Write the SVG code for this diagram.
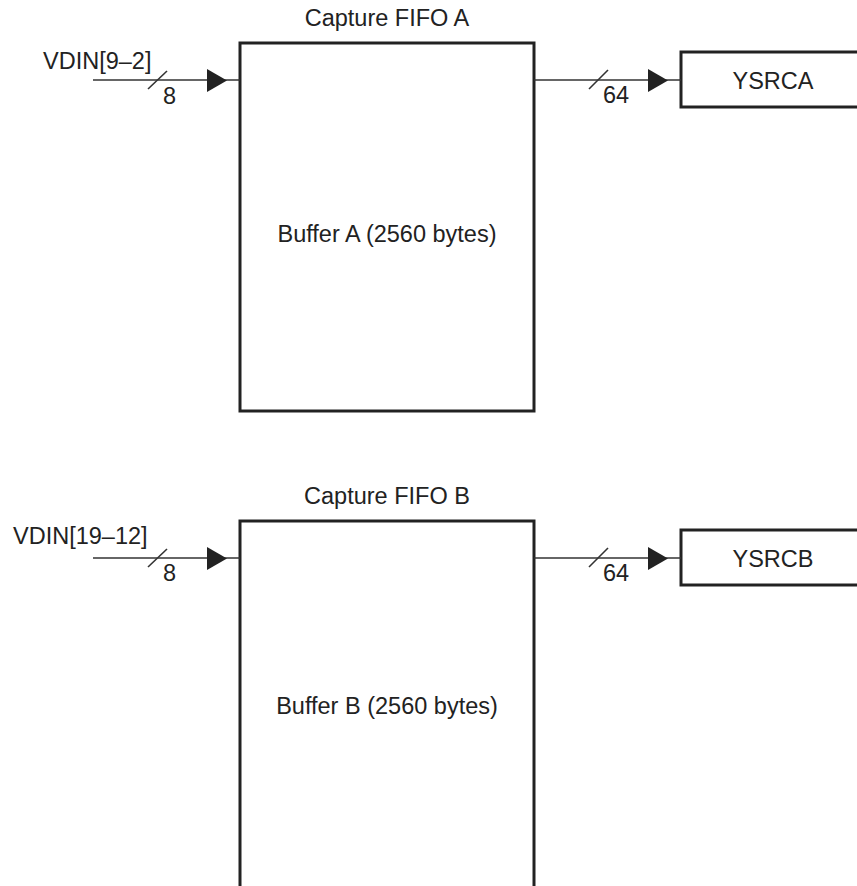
<svg xmlns="http://www.w3.org/2000/svg" width="857" height="886" viewBox="0 0 857 886">
<style>
text{font-family:"Liberation Sans",Arial,sans-serif;font-size:23.5px;fill:#222}
.box{fill:#fff;stroke:#222;stroke-width:3}
.wire{stroke:#333;stroke-width:1.6;fill:none}
.head{fill:#222}
</style>
<rect width="857" height="886" fill="#fff"/>
<g id="fifoA">
<text x="387" y="26" text-anchor="middle">Capture FIFO A</text>
<rect class="box" x="240" y="43" width="294" height="368"/>
<text x="387" y="242" text-anchor="middle">Buffer A (2560 bytes)</text>
</g>
<g id="ysrca">
<rect class="box" x="681" y="52" width="190" height="55"/>
<text x="773" y="89" text-anchor="middle">YSRCA</text>
</g>
<g id="vdinA">
<text x="43" y="69">VDIN[9–2]</text>
</g>
<g id="fifoB">
<text x="387" y="504" text-anchor="middle">Capture FIFO B</text>
<rect class="box" x="240" y="521" width="294" height="380"/>
<text x="387" y="714" text-anchor="middle">Buffer B (2560 bytes)</text>
</g>
<g id="ysrcb">
<rect class="box" x="681" y="530" width="190" height="55"/>
<text x="773" y="567" text-anchor="middle">YSRCB</text>
</g>
<g id="vdinB">
<text x="13" y="544">VDIN[19–12]</text>
</g>
<g id="connectors">
<line class="wire" x1="93" y1="80" x2="240" y2="80"/>
<polygon class="head" points="207,69 227,80.5 207,92"/>
<line class="wire" x1="148" y1="89" x2="167" y2="71"/>
<text x="163" y="104">8</text>
<line class="wire" x1="534" y1="80" x2="681" y2="80"/>
<polygon class="head" points="648,69 668,80.5 648,92"/>
<line class="wire" x1="589" y1="89" x2="608" y2="70"/>
<text x="603" y="103">64</text>
<line class="wire" x1="93" y1="558" x2="240" y2="558"/>
<polygon class="head" points="207,547 227,558.5 207,570"/>
<line class="wire" x1="148" y1="567" x2="167" y2="549"/>
<text x="163" y="581">8</text>
<line class="wire" x1="534" y1="558" x2="681" y2="558"/>
<polygon class="head" points="648,547 668,558.5 648,570"/>
<line class="wire" x1="589" y1="567" x2="608" y2="548"/>
<text x="603" y="581">64</text>
</g>
</svg>
